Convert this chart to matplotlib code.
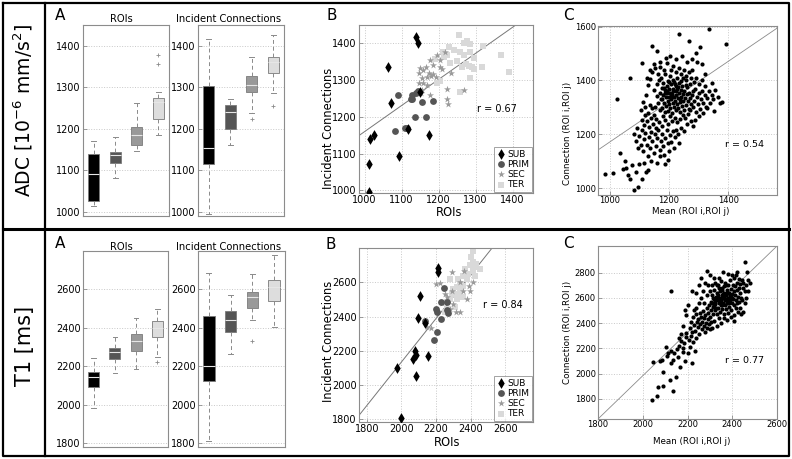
import matplotlib
matplotlib.use("Agg")
import matplotlib.pyplot as plt
from matplotlib.lines import Line2D

plt.rcParams['font.family'] = ['DejaVu Sans']

# ---------------- data ----------------
groups = ['SUB', 'PRIM', 'SEC', 'TER']
box_colors = ['#000000', '#555555', '#999999', '#dddddd']

# box stats: [whisker low, Q1, median, Q3, whisker high]
adc_roi_box = [[1014, 1025, 1092, 1140, 1171], [1081, 1117, 1137, 1145, 1180],
               [1147, 1162, 1186, 1204, 1261], [1186, 1223, 1265, 1273, 1288]]
adc_roi_fliers = [[], [], [], [1356, 1377]]
adc_inc_box = [[994, 1116, 1154, 1302, 1416], [1161, 1199, 1240, 1257, 1271],
               [1239, 1288, 1306, 1327, 1373], [1286, 1334, 1362, 1374, 1427]]
adc_inc_fliers = [[], [], [1224], [1255]]
t1_roi_box = [[1984, 2092, 2144, 2170, 2243], [2167, 2240, 2275, 2297, 2350],
              [2188, 2277, 2330, 2370, 2449], [2249, 2353, 2400, 2435, 2496]]
t1_roi_fliers = [[], [], [], [2223]]
t1_inc_box = [[1809, 2123, 2200, 2461, 2683], [2266, 2379, 2440, 2487, 2570],
              [2443, 2501, 2562, 2586, 2680], [2405, 2541, 2614, 2649, 2779]]
t1_inc_fliers = [[], [], [2332], []]

# panel B scatter (ROIs, Incident Connections)
adc_sub = [(1140, 1417), (1144, 1402), (1063, 1337), (1071, 1239), (1016, 1139), (1026, 1152),
           (1118, 1167), (1175, 1150), (1094, 1094), (1012, 1073), (1011, 995), (1150, 1267)]
adc_prim = [(1091, 1260), (1128, 1260), (1129, 1249), (1144, 1271), (1155, 1240), (1184, 1242),
            (1135, 1200), (1166, 1201), (1108, 1170), (1115, 1169), (1081, 1161), (1126, 1248), (1140, 1266)]
adc_sec = [(1178, 1354), (1150, 1333), (1165, 1335), (1184, 1342), (1205, 1337), (1148, 1320),
           (1159, 1327), (1173, 1320), (1186, 1318), (1209, 1331), (1233, 1320), (1155, 1305),
           (1168, 1308), (1179, 1310), (1194, 1308), (1159, 1292), (1148, 1291), (1168, 1287),
           (1153, 1264), (1177, 1260), (1223, 1277), (1223, 1250), (1225, 1235), (1268, 1274),
           (1155, 1273), (1195, 1368), (1216, 1377), (1205, 1356)]
adc_ter = [(1255, 1424), (1277, 1406), (1286, 1398), (1229, 1389), (1241, 1381), (1212, 1377),
           (1259, 1377), (1285, 1377), (1223, 1368), (1268, 1368), (1295, 1360), (1191, 1358),
           (1250, 1352), (1273, 1343), (1282, 1339), (1291, 1337), (1264, 1335), (1318, 1337),
           (1321, 1393), (1368, 1368), (1391, 1322), (1286, 1306), (1257, 1267), (1205, 1297),
           (1195, 1291), (1232, 1347), (1214, 1362), (1268, 1401), (1295, 1331)]

t1_sub = [(2210, 2683), (2214, 2658), (2109, 2522), (2094, 2392), (2135, 2360), (2079, 2202),
          (2083, 2173), (2066, 2150), (2086, 2056), (2154, 2169), (1972, 2101), (2000, 1806)]
t1_prim = [(2248, 2567), (2229, 2483), (2263, 2483), (2199, 2445), (2207, 2425), (2263, 2441),
           (2267, 2421), (2229, 2386), (2135, 2373), (2207, 2309), (2188, 2266)]
t1_sec = [(2197, 2590), (2225, 2596), (2291, 2659), (2361, 2664), (2338, 2604), (2291, 2551),
          (2357, 2547), (2254, 2532), (2376, 2502), (2235, 2477), (2300, 2473), (2338, 2428),
          (2391, 2577), (2413, 2600), (2315, 2424), (2278, 2444), (2150, 2340), (2169, 2331),
          (2394, 2551), (2263, 2512)]
t1_ter = [(2413, 2780), (2404, 2746), (2413, 2717), (2432, 2688), (2451, 2678), (2413, 2668),
          (2385, 2649), (2357, 2639), (2376, 2620), (2338, 2590), (2319, 2571), (2300, 2561),
          (2357, 2580), (2291, 2532), (2319, 2532), (2338, 2541), (2282, 2502), (2263, 2483),
          (2319, 2502), (2357, 2512), (2310, 2454), (2263, 2444), (2254, 2424), (2432, 2707),
          (2394, 2698), (2366, 2678), (2423, 2639), (2282, 2620), (2329, 2620)]

# regression lines of panels B and C: (x0, y0, slope)
adc_b_fit = (986, 1150, 0.71)
t1_b_fit = (1760, 1830, 1.27)
adc_c_fit = (960, 1142, 0.747)
t1_c_fit = (1800, 1640, 1.7125)
r_values = ['r = 0.67', 'r = 0.54', 'r = 0.84', 'r = 0.77']

# panel C: connection vs mean of its two ROIs
adc_pairs = [
    (1152, 1300), (1158, 1342), (1160, 1385), (1163, 1318), (1165, 1402), (1168, 1290), (1170, 1355),
    (1172, 1330), (1174, 1410), (1176, 1372), (1178, 1298), (1180, 1345), (1181, 1392), (1183, 1318),
    (1185, 1365), (1186, 1282), (1188, 1425), (1189, 1338), (1190, 1305), (1192, 1378), (1193, 1352),
    (1195, 1322), (1196, 1398), (1197, 1288), (1199, 1340), (1200, 1368), (1201, 1312), (1203, 1415),
    (1204, 1355), (1205, 1296), (1207, 1385), (1208, 1330), (1210, 1350), (1211, 1278), (1212, 1402),
    (1214, 1318), (1215, 1370), (1216, 1340), (1218, 1302), (1219, 1388), (1220, 1325), (1222, 1360),
    (1223, 1290), (1225, 1345), (1226, 1410), (1228, 1312), (1229, 1375), (1231, 1335), (1232, 1298),
    (1234, 1392), (1235, 1352), (1237, 1320), (1238, 1282), (1240, 1365), (1241, 1338), (1243, 1305),
    (1245, 1380), (1246, 1350), (1248, 1325), (1250, 1292), (1252, 1362), (1254, 1335), (1256, 1400),
    (1258, 1310), (1260, 1348), (1262, 1375), (1264, 1322), (1266, 1295), (1268, 1355), (1270, 1335),
    (1272, 1388), (1275, 1312), (1278, 1345), (1280, 1362), (1182, 1372), (1194, 1362), (1206, 1342),
    (1217, 1395), (1227, 1368), (1239, 1398), (1176, 1330), (1187, 1352), (1199, 1395), (1213, 1362),
    (1224, 1378), (1236, 1332), (1247, 1408), (1257, 1382),
    (1105, 1290), (1110, 1255), (1112, 1320), (1115, 1235), (1118, 1270), (1120, 1300), (1122, 1345),
    (1125, 1250), (1128, 1280), (1130, 1382), (1132, 1228), (1135, 1310), (1137, 1405), (1140, 1262),
    (1142, 1298), (1144, 1430), (1146, 1240), (1148, 1365), (1150, 1272), (1153, 1445), (1155, 1222),
    (1157, 1258), (1162, 1425), (1166, 1245), (1171, 1450), (1175, 1232), (1179, 1268), (1184, 1440),
    (1188, 1252), (1193, 1465), (1198, 1240), (1202, 1268), (1206, 1438), (1210, 1250), (1214, 1455),
    (1219, 1262), (1224, 1430), (1228, 1245), (1233, 1448), (1238, 1258), (1242, 1425), (1247, 1270),
    (1251, 1440), (1255, 1262), (1259, 1418), (1263, 1275), (1267, 1432), (1271, 1290), (1274, 1410),
    (1277, 1440), (1280, 1300), (1283, 1395), (1285, 1325), (1288, 1370), (1290, 1282), (1292, 1410),
    (1295, 1340), (1297, 1312), (1300, 1385), (1302, 1355), (1305, 1295), (1308, 1330), (1310, 1402),
    (1313, 1362), (1316, 1318), (1320, 1345), (1323, 1380), (1326, 1300), (1330, 1335), (1335, 1362),
    (1340, 1318), (1345, 1345), (1350, 1330), (1322, 1425), (1312, 1460), (1296, 1470), (1278, 1480),
    (1260, 1470), (1245, 1490), (1222, 1478), (1205, 1492), (1190, 1482), (1170, 1470), (1150, 1462),
    (1135, 1440), (1125, 1410),
    (1080, 1200), (1088, 1175), (1092, 1225), (1096, 1150), (1100, 1195), (1104, 1160), (1108, 1215),
    (1112, 1140), (1116, 1182), (1120, 1205), (1124, 1160), (1128, 1120), (1132, 1190), (1136, 1148),
    (1140, 1210), (1144, 1175), (1148, 1132), (1152, 1200), (1156, 1158), (1160, 1185), (1164, 1215),
    (1168, 1142), (1172, 1175), (1176, 1200), (1180, 1155), (1184, 1122), (1188, 1188), (1192, 1215),
    (1196, 1168), (1200, 1140), (1204, 1198), (1208, 1170), (1212, 1212), (1216, 1150), (1220, 1190),
    (1225, 1215), (1230, 1200), (1240, 1225), (1250, 1212), (1262, 1238), (1275, 1250), (1288, 1255),
    (1300, 1268), (1315, 1280), (1330, 1298),
    (1025, 1333), (1068, 1410), (1141, 1528), (1234, 1572), (1267, 1548), (1336, 1590), (1392, 1537),
    (1305, 1525), (983, 1052), (1011, 1055), (1034, 1130), (1043, 1070), (1056, 1076), (1068, 1036),
    (1082, 992), (1096, 1004), (1110, 1034), (1130, 1067), (1050, 1100), (1062, 1050), (1075, 1085),
    (1088, 1060), (1100, 1090), (1115, 1095), (1122, 1060), (1140, 1100), (1158, 1095), (1198, 1106),
    (1235, 1169), (1373, 1317), (1356, 1365), (1365, 1340), (1380, 1320), (1345, 1390), (1352, 1285),
    (1282, 1230), (1170, 1120), (1185, 1090), (1110, 1465), (1160, 1510), (1290, 1500)]

t1_pairs = [
    (2043, 1792), (2064, 1826), (2070, 1892), (2091, 1898), (2137, 1863), (2148, 1971), (2124, 1950),
    (2091, 2011), (2046, 2090), (2085, 2106), (2103, 2214), (2109, 2135), (2128, 2175), (2151, 2196),
    (2166, 2051), (2188, 2103), (2222, 2082), (2136, 2109), (2173, 2254), (2193, 2288), (2210, 2214),
    (2075, 2100), (2112, 2165), (2140, 2165), (2158, 2130), (2178, 2170), (2200, 2160), (2160, 2215),
    (2185, 2240), (2205, 2265), (2125, 2080), (2180, 2200), (2215, 2300), (2225, 2250), (2195, 2320),
    (2162, 2280), (2232, 2180), (2240, 2280),
    (2210, 2360), (2215, 2410), (2220, 2330), (2225, 2450), (2230, 2385), (2235, 2340), (2238, 2470),
    (2242, 2405), (2245, 2365), (2248, 2430), (2252, 2310), (2255, 2480), (2258, 2390), (2260, 2445),
    (2263, 2350), (2266, 2410), (2270, 2495), (2272, 2375), (2275, 2440), (2278, 2330), (2280, 2465),
    (2283, 2400), (2286, 2520), (2288, 2360), (2290, 2430), (2293, 2480), (2296, 2395), (2298, 2540),
    (2300, 2450), (2303, 2410), (2240, 2520), (2250, 2560), (2262, 2600), (2230, 2500), (2275, 2560),
    (2285, 2620),
    (2305, 2500), (2308, 2560), (2310, 2620), (2312, 2470), (2315, 2530), (2318, 2590), (2320, 2660),
    (2322, 2500), (2325, 2550), (2327, 2610), (2330, 2470), (2332, 2580), (2334, 2640), (2336, 2520),
    (2338, 2700), (2340, 2560), (2342, 2600), (2344, 2490), (2346, 2650), (2348, 2540), (2350, 2580),
    (2352, 2620), (2354, 2510), (2356, 2680), (2358, 2560), (2360, 2600), (2362, 2640), (2364, 2470),
    (2366, 2540), (2368, 2720), (2370, 2590), (2372, 2620), (2374, 2510), (2376, 2660), (2378, 2560),
    (2380, 2600), (2382, 2700), (2384, 2530), (2386, 2640), (2388, 2580), (2390, 2740), (2392, 2610),
    (2394, 2500), (2396, 2670), (2398, 2560), (2400, 2630), (2402, 2700), (2404, 2590), (2406, 2760),
    (2408, 2650), (2410, 2540), (2412, 2690), (2414, 2620), (2416, 2780), (2418, 2580), (2420, 2720),
    (2422, 2660), (2425, 2610), (2428, 2750), (2430, 2680), (2433, 2640), (2436, 2710), (2440, 2600),
    (2443, 2740), (2446, 2680), (2450, 2720), (2455, 2650), (2460, 2700), (2318, 2540), (2328, 2520),
    (2338, 2620), (2348, 2600), (2358, 2630), (2368, 2580), (2378, 2640), (2388, 2620), (2398, 2600),
    (2345, 2570), (2355, 2545), (2365, 2610), (2375, 2575), (2385, 2555), (2395, 2625), (2335, 2590),
    (2325, 2575), (2315, 2600), (2305, 2570), (2352, 2660), (2362, 2690), (2372, 2700), (2342, 2680),
    (2332, 2700), (2322, 2720), (2300, 2650), (2310, 2700), (2320, 2760), (2290, 2700), (2280, 2720),
    (2300, 2780), (2285, 2810), (2360, 2808), (2397, 2782), (2419, 2808), (2464, 2808), (2380, 2790),
    (2340, 2760), (2350, 2730),
    (2479, 2715), (2472, 2650), (2449, 2491), (2407, 2420), (2375, 2425), (2420, 2560), (2435, 2520),
    (2445, 2580), (2460, 2600), (2470, 2740), (2455, 2560), (2440, 2470), (2425, 2490), (2410, 2460),
    (2395, 2450), (2380, 2480), (2365, 2440), (2350, 2400), (2340, 2440), (2330, 2380), (2320, 2420),
    (2310, 2360), (2300, 2350), (2415, 2520), (2430, 2570),
    (2125, 2650), (2457, 2882), (2203, 2544), (2218, 2650), (2188, 2504), (2250, 2700), (2262, 2760),
    (2240, 2640), (2195, 2460), (2180, 2380), (2170, 2310), (2270, 2650)]

# ---------------- figure ----------------
W, H = 792, 459
fig = plt.figure(figsize=(W / 100, H / 100), dpi=100)
SPINE = '#8c8c8c'
GRID = '#c8c8c8'


def px_axes(x0, y0, x1, y1):
    return fig.add_axes([x0 / W, 1 - y1 / H, (x1 - x0) / W, (y1 - y0) / H])


def ftext(x, y, s, **kw):
    return fig.text(x / W, 1 - y / H, s, **kw)


def style(ax, size=7, xgrid=True):
    for sp in ax.spines.values():
        sp.set_color(SPINE)
        sp.set_linewidth(0.8)
    ax.tick_params(direction='in', length=3, width=0.6, color=SPINE, labelsize=size, pad=1.5)
    ax.grid(True, axis='both' if xgrid else 'y', linestyle=':', color=GRID, linewidth=0.7)
    ax.set_axisbelow(True)


def boxes(ax, box, fliers, ylim, yticks):
    stats = []
    for b, f in zip(box, fliers):
        stats.append(dict(whislo=b[0], q1=b[1], med=b[2], q3=b[3], whishi=b[4], fliers=f))
    bp = ax.bxp(stats, positions=[1, 2, 3, 4], widths=0.52, patch_artist=True,
                boxprops=dict(edgecolor='#7a7a7a', linewidth=0.6),
                whiskerprops=dict(color='#8a8a8a', linestyle=(0, (4, 3)), linewidth=0.7),
                capprops=dict(color='#8a8a8a', linewidth=0.7),
                medianprops=dict(color='#e6e6e6', linewidth=0.8),
                flierprops=dict(marker='+', markeredgecolor='#8a8a8a', markersize=3, markeredgewidth=0.6))
    for patch, c in zip(bp['boxes'], box_colors):
        patch.set_facecolor(c)
    for cap in bp['caps']:
        x = cap.get_xdata()
        m = (x[0] + x[1]) / 2
        cap.set_xdata([m - 0.11, m + 0.11])
    ax.set_xlim(0.5, 4.5)
    ax.set_ylim(*ylim)
    ax.set_yticks(yticks)
    ax.set_xticks([])
    style(ax, 7, xgrid=False)


def scatter_b(ax, sub, prim, sec, ter, fit, xlim, ylim, ticks, rtxt, rpos):
    hs = []
    hs.append(ax.scatter([p[0] for p in ter], [p[1] for p in ter], marker='s', s=18,
                         color='#d9d9d9', linewidths=0, label='TER', zorder=2))
    hs.append(ax.scatter([p[0] for p in sec], [p[1] for p in sec], marker='*', s=28,
                         color='#9a9a9a', linewidths=0, label='SEC', zorder=3))
    hs.append(ax.scatter([p[0] for p in prim], [p[1] for p in prim], marker='o', s=24,
                         color='#555555', linewidths=0, label='PRIM', zorder=4))
    hs.append(ax.scatter([p[0] for p in sub], [p[1] for p in sub], marker='d', s=30,
                         color='#000000', linewidths=0, label='SUB', zorder=5))
    ax.axline((fit[0], fit[1]), slope=fit[2], color='#777777', lw=0.7, zorder=1)
    ax.set_xlim(*xlim)
    ax.set_ylim(*ylim)
    ax.set_xticks(ticks)
    ax.set_yticks(ticks)
    style(ax, 7)
    leg = ax.legend(handles=hs[::-1], loc='lower right', fontsize=6.5, frameon=True, fancybox=False,
                    handlelength=0.8, handletextpad=0.3, borderpad=0.3, labelspacing=0.12,
                    borderaxespad=0.15, scatterpoints=1)
    leg.get_frame().set_edgecolor(SPINE)
    leg.get_frame().set_linewidth(0.7)
    ax.text(rpos[0], rpos[1], rtxt, transform=ax.transAxes, fontsize=7, ha='left', va='center')


def scatter_c(ax, pairs, fit, xlim, ylim, xt, yt, rtxt, rpos):
    ax.scatter([p[0] for p in pairs], [p[1] for p in pairs], s=9, color='#000000', linewidths=0, zorder=3)
    ax.axline((fit[0], fit[1]), slope=fit[2], color='#8a8a8a', lw=0.6, zorder=2)
    ax.set_xlim(*xlim)
    ax.set_ylim(*ylim)
    ax.set_xticks(xt)
    ax.set_yticks(yt)
    style(ax, 6)
    ax.tick_params(axis='x', pad=1)
    ax.text(rpos[0], rpos[1], rtxt, transform=ax.transAxes, fontsize=6.8, ha='left', va='center')


# ---- top row (ADC) ----
a1 = px_axes(83, 25, 169, 216)
boxes(a1, adc_roi_box, adc_roi_fliers, (990, 1450), [1000, 1100, 1200, 1300, 1400])
a2 = px_axes(198, 25, 284, 216)
boxes(a2, adc_inc_box, adc_inc_fliers, (990, 1450), [1000, 1100, 1200, 1300, 1400])
b1 = px_axes(359, 25, 533, 193)
scatter_b(b1, adc_sub, adc_prim, adc_sec, adc_ter, adc_b_fit, (985, 1455), (993, 1450),
          [1000, 1100, 1200, 1300, 1400], r_values[0], (0.68, 0.5))
c1 = px_axes(598, 26, 777, 195)
scatter_c(c1, adc_pairs, adc_c_fit, (960, 1565), (975, 1602), [1000, 1200, 1400],
          [1000, 1200, 1400, 1600], r_values[1], (0.71, 0.3))

# ---- bottom row (T1) ----
a3 = px_axes(83, 251, 168, 447)
boxes(a3, t1_roi_box, t1_roi_fliers, (1780, 2800), [1800, 2000, 2200, 2400, 2600])
a4 = px_axes(198, 251, 285, 447)
boxes(a4, t1_inc_box, t1_inc_fliers, (1780, 2800), [1800, 2000, 2200, 2400, 2600])
b2 = px_axes(359, 248, 533, 422)
scatter_b(b2, t1_sub, t1_prim, t1_sec, t1_ter, t1_b_fit, (1755, 2760), (1785, 2800),
          [1800, 2000, 2200, 2400, 2600], r_values[2], (0.71, 0.67))
c2 = px_axes(598, 246, 777, 419)
scatter_c(c2, t1_pairs, t1_c_fit, (1800, 2600), (1640, 3010), [1800, 2000, 2200, 2400, 2600],
          [1800, 2000, 2200, 2400, 2600, 2800], r_values[3], (0.71, 0.34))

# ---- texts ----
for yy in (15, 243):
    ftext(60, yy, 'A', fontsize=11, ha='center', va='center')
    ftext(121, yy + 4, 'ROIs', fontsize=7.2, ha='center', va='center')
    ftext(229, yy + 4, 'Incident Connections', fontsize=7.2, ha='center', va='center')
ftext(332, 15, 'B', fontsize=11, ha='center', va='center')
ftext(568, 15, 'C', fontsize=11, ha='center', va='center')
ftext(331, 245, 'B', fontsize=11, ha='center', va='center')
ftext(568, 243, 'C', fontsize=11, ha='center', va='center')

ftext(328, 128, 'Incident Connections', fontsize=8.3, rotation=90, ha='center', va='center')
ftext(449, 212, 'ROIs', fontsize=8.3, ha='center', va='center')
ftext(328, 341, 'Incident Connections', fontsize=8.3, rotation=90, ha='center', va='center')
ftext(447, 443, 'ROIs', fontsize=8.3, ha='center', va='center')
ftext(568, 133, 'Connection (ROI i,ROI j)', fontsize=6.3, rotation=90, ha='center', va='center')
ftext(691, 212, 'Mean (ROI i,ROI j)', fontsize=6.3, ha='center', va='center')
ftext(568, 332, 'Connection (ROI i,ROI j)', fontsize=6.3, rotation=90, ha='center', va='center')
ftext(692, 441, 'Mean (ROI i,ROI j)', fontsize=6.3, ha='center', va='center')

ftext(23, 111, r'ADC [10$^{-6}$ mm/s$^2$]', fontsize=13.5, rotation=90, ha='center', va='center')
ftext(25, 346, 'T1 [ms]', fontsize=15, rotation=90, ha='center', va='center')

# ---- frame ----
def fline(xs, ys, lw=1.6):
    fig.add_artist(Line2D([x / W for x in xs], [1 - y / H for y in ys], color='black', lw=lw,
                          transform=fig.transFigure))

fline([3, 789, 789, 3, 3], [3, 3, 456, 456, 3])
fline([3, 789], [229, 229], lw=2.2)
fline([45, 45], [3, 456])

fig.savefig('out.png', dpi=100)
